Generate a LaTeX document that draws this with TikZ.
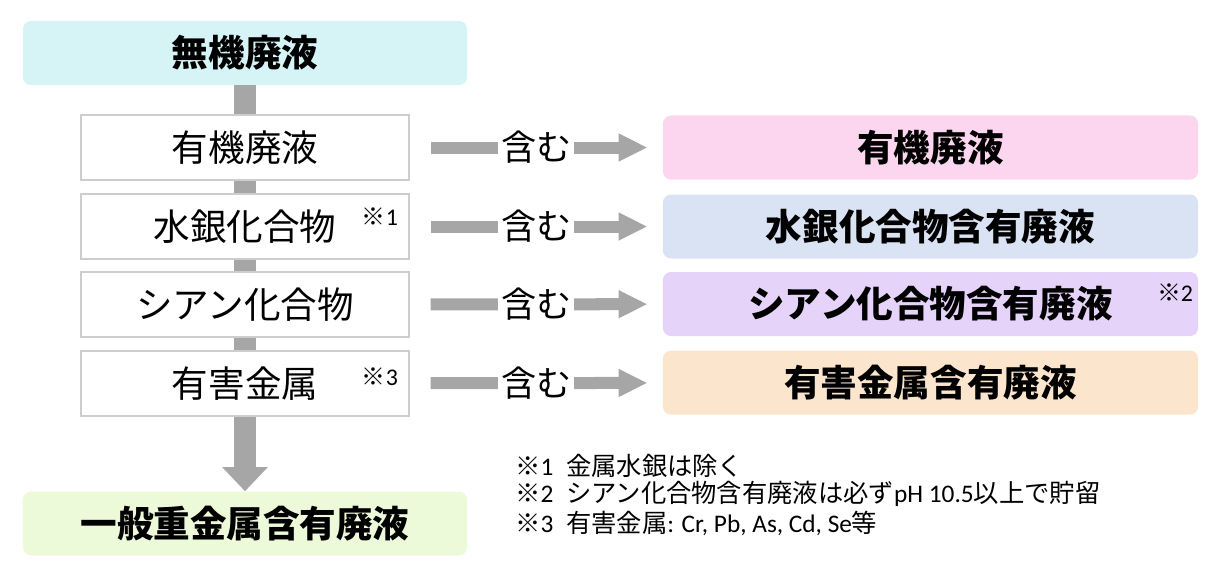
\documentclass[tikz,border=0pt]{standalone}
\usepackage{fontspec}
\setmainfont{Noto Sans CJK JP}
\newfontfamily\lat{Carlito}
\usetikzlibrary{arrows.meta}
\definecolor{topfill}{RGB}{214,243,246}
\definecolor{endfill}{RGB}{237,250,218}
\definecolor{pinkfill}{RGB}{252,214,238}
\definecolor{bluefill}{RGB}{218,227,243}
\definecolor{lilacfill}{RGB}{230,211,250}
\definecolor{peachfill}{RGB}{252,229,205}
\definecolor{bargray}{RGB}{166,166,166}
\definecolor{edgegray}{RGB}{205,205,205}
\begin{document}
\begin{tikzpicture}[x=0.025cm,y=-0.025cm,
    headbox/.style={rounded corners=0.2cm,minimum width=11.1cm,minimum height=1.6cm,
        font=\fontsize{26}{30}\selectfont\bfseries},
    itembox/.style={draw=edgegray,line width=0.04cm,minimum width=8.2cm,minimum height=1.625cm,
        font=\fontsize{26}{30}\selectfont},
    resultbox/.style={rounded corners=0.2cm,minimum width=13.375cm,minimum height=1.6cm,
        font=\fontsize{26}{30}\selectfont\bfseries},
    notemark/.style={font=\fontsize{17}{20}\selectfont,inner sep=0pt},
    bar/.style={draw=bargray,line width=0.55cm},
    link/.style={draw=bargray,line width=0.3cm,-{Triangle[length=0.72cm,width=0.65cm]},
        shorten <=0.52cm,shorten >=0.38cm},
    linklabel/.style={fill=white,inner sep=2pt,font=\fontsize{25}{30}\selectfont}]
  \useasboundingbox (0,0) rectangle (1227,581);
  % left column
  \node[headbox,fill=topfill] (top) at (245,53) {無機廃液};
  \node[itembox] (organic) at (245,147.5) {有機廃液};
  \node[itembox] (mercury) at (245,226.5) {水銀化合物};
  \node[itembox] (cyanide) at (245,304.5) {シアン化合物};
  \node[itembox] (metal) at (245,383.5) {有害金属};
  \node[headbox,fill=endfill] (general) at (245,523.5) {一般重金属含有廃液};
  \node[notemark] (m1) at (380,217) {※{\lat 1}};
  \node[notemark] (m3) at (380,377) {※{\lat 3}};
  % right column
  \node[resultbox,fill=pinkfill] (organicout) at (930.5,147.5) {有機廃液};
  \node[resultbox,fill=bluefill] (mercuryout) at (930.5,226.5) {水銀化合物含有廃液};
  \node[resultbox,fill=lilacfill] (cyanideout) at (930.5,304) {シアン化合物含有廃液};
  \node[resultbox,fill=peachfill] (metalout) at (930.5,382.5) {有害金属含有廃液};
  \node[notemark] (m2) at (1175,293) {※{\lat 2}};
  % connectors
  \draw[bar] (top) -- (organic);
  \draw[bar] (organic) -- (mercury);
  \draw[bar] (mercury) -- (cyanide);
  \draw[bar] (cyanide) -- (metal);
  \draw[bar,-{Triangle[length=0.6cm,width=1.1cm]}] (metal) -- (general);
  \foreach \src/\dst in {organic/organicout,mercury/mercuryout,cyanide/cyanideout,metal/metalout}
    \draw[link] (\src) -- node[linklabel] {含む} (\dst);
  % notes
  \begin{scope}[every node/.style={anchor=west,inner sep=0pt,font=\fontsize{18}{21}\selectfont}]
    \node (n1) at (515,466) {※{\lat 1}\hspace{0.5em}金属水銀は除く};
    \node (n2) at (515,494) {※{\lat 2}\hspace{0.5em}シアン化合物含有廃液は必ず{\lat pH 10.5}以上で貯留};
    \node (n3) at (515,523) {※{\lat 3}\hspace{0.5em}有害金属{\lat : Cr, Pb, As, Cd, Se}等};
  \end{scope}
\end{tikzpicture}
\end{document}
